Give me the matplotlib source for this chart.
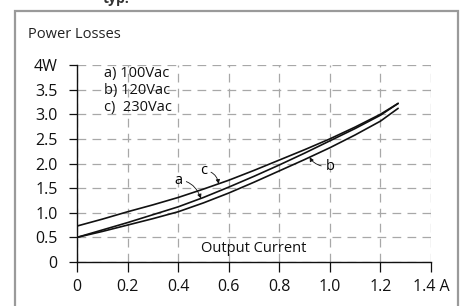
import matplotlib
matplotlib.use("Agg")
import matplotlib.pyplot as plt
import numpy as np
from matplotlib.patches import Rectangle

plt.rcParams['font.family'] = ['Open Sans', 'DejaVu Sans']

# output current (A) and power losses (W)
current = [0, 0.1, 0.2, 0.3, 0.4, 0.5, 0.6, 0.7, 0.8, 0.9, 1.0, 1.1, 1.2, 1.27]
loss_a = [0.50, 0.65, 0.80, 0.96, 1.12, 1.31, 1.52, 1.74, 1.97, 2.21, 2.46, 2.71, 2.98, 3.22]  # 100Vac
loss_b = [0.50, 0.62, 0.75, 0.88, 1.02, 1.20, 1.40, 1.62, 1.85, 2.08, 2.32, 2.58, 2.86, 3.12]  # 120Vac
loss_c = [0.73, 0.87, 1.02, 1.16, 1.31, 1.48, 1.66, 1.86, 2.07, 2.28, 2.50, 2.74, 3.00, 3.22]  # 230Vac

x_ticks = [0, 0.2, 0.4, 0.6, 0.8, 1.0, 1.2, 1.4]
x_labels = ['0', '0.2', '0.4', '0.6', '0.8', '1.0', '1.2', '1.4 A']
y_ticks = [0, 0.5, 1.0, 1.5, 2.0, 2.5, 3.0, 3.5, 4.0]
y_labels = ['0', '0.5', '1.0', '1.5', '2.0', '2.5', '3.0', '3.5', '4W']
legend_lines = ['a) 100Vac', 'b) 120Vac', 'c)  230Vac']

W, H = 466, 306
fig = plt.figure(figsize=(W / 100, H / 100), dpi=100)
fig.patch.set_facecolor('white')

# grey frame around the whole chart
fig.patches.append(Rectangle((15 / W, -0.05), 443 / W, 1.05 - 11 / H,
                             transform=fig.transFigure, fill=False,
                             edgecolor='#9a9a9a', linewidth=1.6))
# title of the original sits mostly above the crop, only its bottom shows
fig.text(103 / W, 1 - 3 / H, 'typ.', fontsize=10, fontweight='bold',
         color='#333333', va='baseline', ha='left')
fig.text(28 / W, 1 - 35 / H, 'Power Losses', fontsize=10.5, color='#222222',
         va='center', ha='left')

ax = fig.add_axes([77 / W, 1 - 262 / H, 354 / W, 197 / H])
ax.set_xlim(0, 1.4)
ax.set_ylim(0, 4)

for loss in (loss_a, loss_b, loss_c):
    ax.plot(current, loss, color='#111111', linewidth=1.2, solid_capstyle='round')

ax.set_xticks(x_ticks)
ax.set_xticklabels(x_labels)
ax.set_yticks(y_ticks)
ax.set_yticklabels(y_labels)
ax.tick_params(axis='x', direction='out', length=7, width=0.9, pad=5,
               labelsize=11.5, colors='#111111')
ax.tick_params(axis='y', direction='out', length=6, width=0.9, pad=8,
               labelsize=11.5, colors='#111111')
ax.grid(True, color='#a8a8a8', linestyle=(0, (7, 5)), linewidth=0.9)
ax.set_axisbelow(True)
for s in ('top', 'right'):
    ax.spines[s].set_visible(False)
for s in ('left', 'bottom'):
    ax.spines[s].set_linewidth(1.0)
    ax.spines[s].set_color('#111111')

for i, t in enumerate(legend_lines):
    ax.text(0.105, 3.82 - i * 0.34, t, fontsize=10.5, color='#111111',
            va='center', ha='left')

ax.text(0.7, 0.27, 'Output Current', fontsize=10.5, color='#111111',
        va='center', ha='center')

arrow = dict(arrowstyle='-|>', color='#111111', linewidth=0.6,
             mutation_scale=6, shrinkA=1, shrinkB=0)
ax.annotate('c', xy=(0.56, np.interp(0.56, current, loss_c)), xytext=(0.50, 1.86),
            fontsize=10.5, ha='center', va='center',
            arrowprops=dict(arrow, connectionstyle='arc3,rad=-0.4'))
ax.annotate('a', xy=(0.49, np.interp(0.49, current, loss_a)), xytext=(0.40, 1.66),
            fontsize=10.5, ha='center', va='center',
            arrowprops=dict(arrow, connectionstyle='angle3,angleA=0,angleB=-70'))
ax.annotate('b', xy=(0.92, np.interp(0.92, current, loss_b)), xytext=(1.0, 1.93),
            fontsize=10.5, ha='center', va='center',
            arrowprops=dict(arrow, connectionstyle='angle3,angleA=180,angleB=-60'))

fig.savefig('out.png', dpi=100)
